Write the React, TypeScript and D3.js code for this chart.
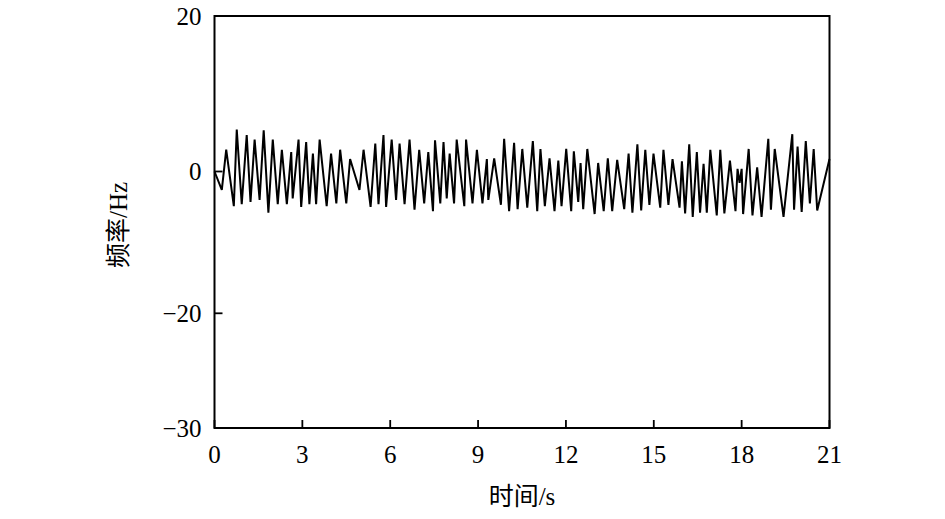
import React from "react";
import * as d3 from "d3";

// time (s) and frequency deviation (Hz)
const timeS = [
  0, 0.25, 0.4, 0.66, 0.76, 0.93, 1.1, 1.23, 1.37, 1.54, 1.68, 1.84, 1.99, 2.16, 2.3, 2.47, 2.62, 2.67, 2.87, 2.96,
  3.13, 3.24, 3.36, 3.47, 3.59, 3.83, 3.98, 4.16, 4.29, 4.5, 4.63, 4.95, 5.09, 5.33, 5.49, 5.6, 5.77, 5.86, 6.05, 6.2,
  6.32, 6.49, 6.66, 6.83, 6.99, 7.16, 7.3, 7.46, 7.53, 7.71, 7.82, 7.93, 8.03, 8.18, 8.27, 8.53, 8.59, 8.81, 8.96, 9.15,
  9.3, 9.35, 9.55, 9.78, 9.89, 10.06, 10.23, 10.35, 10.51, 10.68, 10.87, 11.02, 11.13, 11.28, 11.44, 11.61, 11.74, 11.85, 12.01, 12.18,
  12.27, 12.42, 12.5, 12.59, 12.73, 12.98, 13.1, 13.29, 13.43, 13.58, 13.75, 13.99, 14.14, 14.27, 14.44, 14.57, 14.71, 14.85, 14.99, 15.22,
  15.33, 15.5, 15.64, 15.88, 15.96, 16.07, 16.21, 16.33, 16.47, 16.58, 16.7, 16.81, 16.93, 17.15, 17.27, 17.41, 17.6, 17.79, 17.86, 17.93,
  18.0, 18.05, 18.24, 18.37, 18.53, 18.68, 18.91, 19.0, 19.13, 19.43, 19.73, 19.79, 19.91, 20.05, 20.19, 20.33, 20.46, 20.58, 21.0,
];

const freqHz = [
  0, -2.6, 2.8, -4.9, 5.4, -4.6, 4.7, -4.3, 4.1, -4.0, 5.3, -5.8, 4.1, -4.6, 2.8, -4.6, 2.5, -3.8, 4.1, -5.0,
  3.8, -4.6, 2.3, -4.6, 4.1, -4.9, 2.3, -4.5, 2.8, -4.5, 1.6, -2.6, 2.8, -5.0, 3.6, -4.6, 4.7, -5.0, 4.1, -4.0,
  3.6, -4.6, 4.1, -5.4, 2.8, -4.5, 2.5, -5.6, 4.0, -4.5, 3.8, -3.8, 2.3, -4.5, 4.1, -4.9, 4.1, -4.5, 2.8, -4.5,
  1.6, -4.0, 1.7, -4.7, 4.2, -5.6, 3.7, -5.3, 2.9, -5.1, 3.9, -5.6, 2.9, -4.9, 1.7, -5.6, 1.4, -4.9, 2.9, -5.6,
  2.6, -4.3, 1.1, -5.3, 2.9, -6.0, 1.1, -5.6, 1.7, -5.6, 1.5, -5.3, 2.3, -5.8, 3.5, -5.5, 2.8, -4.7, 2.3, -5.1,
  2.8, -4.7, 1.6, -5.1, 1.3, -5.9, 3.5, -6.4, 2.5, -5.8, 1.0, -5.8, 2.8, -6.2, 2.8, -5.9, 1.4, -5.6, 0.35, -1.6,
  0.35, -6.0, 2.9, -6.2, 0.55, -6.4, 4.2, -5.4, 2.9, -6.4, 4.8, -5.4, 3.2, -5.7, 3.9, -4.5, 2.9, -5.5, 1.6,
];

const xTicks = [0, 3, 6, 9, 12, 15, 18, 21];
const yTicks = [20, 0, -20, -30];

const xTitle = "时间/s";
const yTitle = "频率/Hz";

const font = '"Times New Roman", "Liberation Serif", "Noto Sans CJK SC", serif';

export default function App() {
  const width = 945;
  const height = 519;
  const left = 214.5;
  const right = 829.5;
  const top = 16;
  const bottom = 428;

  const x = d3.scaleLinear().domain([0, 21]).range([left, right]);
  // the printed axis is not evenly spaced, so map through its tick positions
  const y = d3.scaleLinear().domain([-30, -20, 0, 20]).range([bottom, 313.3, 171.5, top]);

  const line = d3
    .line<number>()
    .x((_, i) => x(timeS[i]))
    .y((d) => y(d));

  const fmt = (v: number) => (v < 0 ? "\u2212" + Math.abs(v) : String(v));

  return (
    <svg
      width={width}
      height={height}
      style={{ position: "absolute", left: 0, top: 0, background: "#fff" }}
      fontFamily={font}
    >
      <path d={line(freqHz) || ""} fill="none" stroke="#000" strokeWidth={2} strokeLinejoin="miter" />

      {/* frame */}
      <rect x={left} y={top} width={right - left} height={bottom - top} fill="none" stroke="#000" strokeWidth={2} />

      {xTicks.map((t) => (
        <g key={"x" + t}>
          <line x1={x(t)} x2={x(t)} y1={bottom} y2={bottom - 8} stroke="#000" strokeWidth={1.8} />
          <text x={x(t)} y={bottom + 35} textAnchor="middle" fontSize={25}>
            {fmt(t)}
          </text>
        </g>
      ))}

      {yTicks.map((t) => (
        <g key={"y" + t}>
          <line x1={left} x2={left + 8} y1={y(t)} y2={y(t)} stroke="#000" strokeWidth={1.8} />
          <text x={left - 13} y={y(t) + 8.5} textAnchor="end" fontSize={25}>
            {fmt(t)}
          </text>
        </g>
      ))}

      <text x={(left + right) / 2} y={505} textAnchor="middle" fontSize={25}>
        {xTitle}
      </text>
      <text
        transform={`translate(127, ${(top + bottom) / 2 + 3}) rotate(-90)`}
        textAnchor="middle"
        fontSize={25}
      >
        {yTitle}
      </text>
    </svg>
  );
}
